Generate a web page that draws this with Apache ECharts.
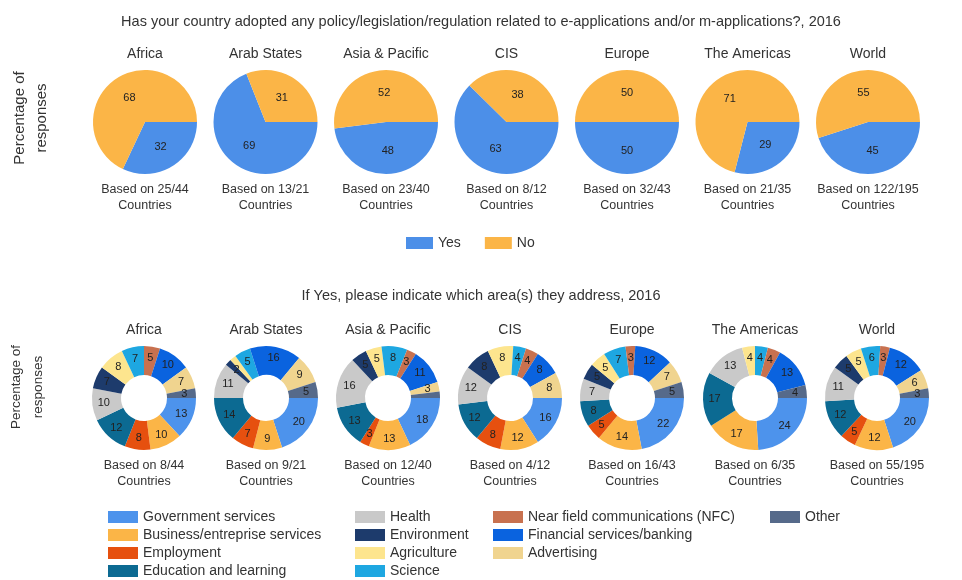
<!DOCTYPE html>
<html>
<head>
<meta charset="utf-8">
<title>e-applications policy, 2016</title>
<script src="https://cdn.jsdelivr.net/npm/echarts@6/dist/echarts.min.js"></script>
<style>
  html, body { margin: 0; padding: 0; background: #fff; }
  #chart { width: 962px; height: 580px; }
</style>
</head>
<body>
<div id="chart"></div>
<script>
// regions shown in both rows
const regions = ['Africa', 'Arab States', 'Asia & Pacific', 'CIS', 'Europe', 'The Americas', 'World']

// top row: adopted a policy? (%)
const yesShare = [32, 69, 48, 63, 50, 29, 45]
const noShare = [68, 31, 52, 38, 50, 71, 55]
const policyBase = ['Based on 25/44', 'Based on 13/21', 'Based on 23/40', 'Based on 8/12', 'Based on 32/43', 'Based on 21/35', 'Based on 122/195']

// bottom row: areas addressed (%), same order as areaNames
const areaNames = [
  'Government services', 'Business/entreprise services', 'Employment', 'Education and learning',
  'Health', 'Environment', 'Agriculture', 'Science',
  'Near field communications (NFC)', 'Financial services/banking', 'Advertising', 'Other'
]
const africaAreas = [13, 10, 8, 12, 10, 7, 8, 7, 5, 10, 7, 3]
const arabAreas = [20, 9, 7, 14, 11, 2, 2, 5, 0, 16, 9, 5]
const asiaAreas = [18, 13, 3, 13, 16, 5, 5, 8, 3, 11, 3, 2]
const cisAreas = [16, 12, 8, 12, 12, 8, 8, 4, 4, 8, 8, 0]
const europeAreas = [22, 14, 5, 8, 7, 5, 5, 7, 3, 12, 7, 5]
const americasAreas = [24, 17, 0, 17, 13, 0, 4, 4, 4, 13, 0, 4]
const worldAreas = [20, 12, 5, 12, 11, 5, 5, 6, 3, 12, 6, 3]
const areaBase = ['Based on 8/44', 'Based on 9/21', 'Based on 12/40', 'Based on 4/12', 'Based on 16/43', 'Based on 6/35', 'Based on 55/195']

const areaRows = [africaAreas, arabAreas, asiaAreas, cisAreas, europeAreas, americasAreas, worldAreas]

const yesColor = '#4c8fe8'
const noColor = '#fbb547'
const areaColors = [
  '#4d93ec', '#fbb547', '#e6500f', '#0c6a92',
  '#c9c9c9', '#1d3b6c', '#fde58e', '#1ea7e1',
  '#c8714f', '#0a63df', '#f0d48f', '#566a8a'
]

const FONT = "'Liberation Sans', Arial, sans-serif"
const pieX = [145, 265.5, 386, 506.5, 627, 747.5, 868]
const donutX = [144, 266, 388, 510, 632, 755, 877]
const pieY = 122
const donutY = 398

const chart = echarts.init(document.getElementById('chart'))

const sliceLabel = {
  position: 'inside',
  color: '#222',
  fontSize: 11,
  fontFamily: FONT,
  formatter: p => (p.value ? String(p.value) : '')
}

function policySeries () {
  return regions.map((r, i) => ({
    type: 'pie',
    name: r,
    center: [pieX[i], pieY],
    radius: 52,
    startAngle: 0,
    clockwise: true,
    avoidLabelOverlap: false,
    label: sliceLabel,
    labelLine: { show: false },
    emphasis: { disabled: true },
    data: [
      { name: 'Yes', value: yesShare[i], itemStyle: { color: yesColor } },
      { name: 'No', value: noShare[i], itemStyle: { color: noColor } }
    ]
  }))
}

function areaSeries () {
  return regions.map((r, i) => ({
    type: 'pie',
    name: r + ' areas',
    center: [donutX[i], donutY],
    radius: [23, 52],
    startAngle: 0,
    clockwise: true,
    avoidLabelOverlap: false,
    label: sliceLabel,
    labelLine: { show: false },
    emphasis: { disabled: true },
    data: areaNames.map((n, k) => ({ name: n, value: areaRows[i][k], itemStyle: { color: areaColors[k] } }))
  }))
}

function texts () {
  const list = []
  const txt = (x, y, text, size, extra) => Object.assign({
    type: 'text',
    x,
    y,
    silent: true,
    style: { text, fill: '#333', fontSize: size, fontFamily: FONT, align: 'center', verticalAlign: 'middle' }
  }, extra || {})
  regions.forEach((r, i) => {
    list.push(txt(pieX[i], 54, r, 14))
    list.push(txt(donutX[i], 330, r, 14))
    const a = txt(pieX[i], 182, policyBase[i] + '\nCountries', 12.5)
    a.style.verticalAlign = 'top'
    a.style.lineHeight = 16
    list.push(a)
    const b = txt(donutX[i], 458, areaBase[i] + '\nCountries', 12.5)
    b.style.verticalAlign = 'top'
    b.style.lineHeight = 16
    list.push(b)
  })
  ;[[31, 118, 15], [27, 387, 13.5]].forEach(p => {
    const t = txt(p[0], p[1], 'Percentage of\nresponses', p[2], { rotation: Math.PI / 2 })
    t.style.lineHeight = 22
    list.push(t)
  })
  return list
}

const areaLegend = (names, left) => ({
  data: names,
  orient: 'vertical',
  left,
  top: 510,
  padding: 0,
  icon: 'rect',
  itemWidth: 30,
  itemHeight: 12,
  itemGap: 4,
  selectedMode: false,
  textStyle: { fontSize: 14, color: '#333', fontFamily: FONT }
})

chart.setOption({
  backgroundColor: '#fff',
  animation: false,
  title: [
    {
      text: 'Has your country adopted any policy/legislation/regulation related to e-applications and/or m-applications?, 2016',
      left: 'center',
      top: 9,
      textStyle: { fontSize: 14.5, fontWeight: 'normal', color: '#333', fontFamily: FONT }
    },
    {
      text: 'If Yes, please indicate which area(s) they address, 2016',
      left: 'center',
      top: 283,
      textStyle: { fontSize: 14.5, fontWeight: 'normal', color: '#333', fontFamily: FONT }
    }
  ],
  legend: [
    {
      data: ['Yes', 'No'],
      left: 406,
      top: 236,
      padding: 0,
      icon: 'rect',
      itemWidth: 27,
      itemHeight: 12,
      itemGap: 24,
      selectedMode: false,
      textStyle: { fontSize: 14, color: '#333', fontFamily: FONT }
    },
    areaLegend(areaNames.slice(0, 4), 108),
    areaLegend(areaNames.slice(4, 8), 355),
    areaLegend(areaNames.slice(8, 11), 493),
    areaLegend(areaNames.slice(11), 770)
  ],
  graphic: texts(),
  series: policySeries().concat(areaSeries())
})
</script>
</body>
</html>
